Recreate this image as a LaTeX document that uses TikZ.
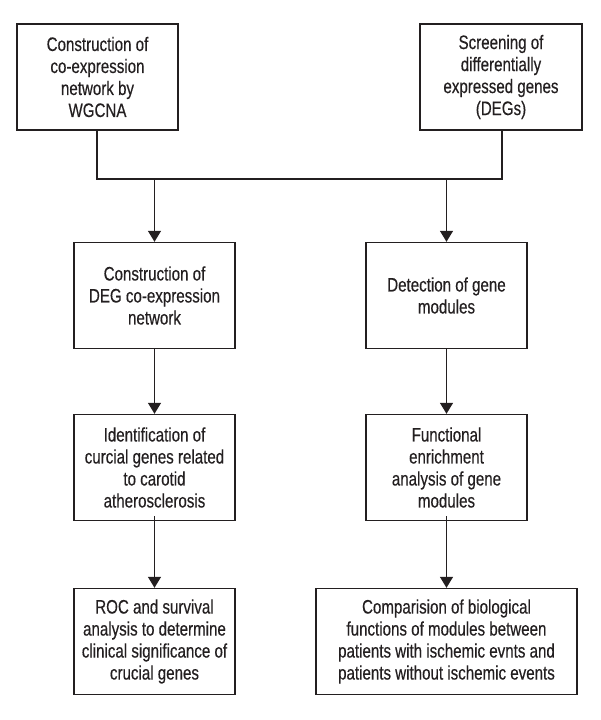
\documentclass[tikz,border=0pt]{standalone}
\usepackage{fontspec}
\setmainfont{Liberation Sans}[FakeStretch=0.775,FakeBold=0.4]
\usetikzlibrary{arrows.meta}
\definecolor{ink}{HTML}{231F20}
\tikzset{
  stepbox/.style={draw=ink, line width=1.4pt, align=center, inner sep=0pt,
    minimum height=106pt, text=ink,
    font=\fontsize{19.5}{22}\selectfont},
  conn/.style={draw=ink, line width=1.4pt},
  arr/.style={conn, -{Triangle[width=13pt,length=11pt]}}
}
\begin{document}
\begin{tikzpicture}[x=1pt,y=-1pt]
\useasboundingbox (0,0) rectangle (600,720);
\node[stepbox, minimum width=161pt] (wgcna) at (97.5,77) {Construction of\\co-expression\\network by\\WGCNA};
\node[stepbox, minimum width=162pt] (degs) at (501,77) {Screening of\\differentially\\expressed genes\\(DEGs)};
\node[stepbox, minimum width=161pt] (degnet) at (154.5,295.5) {Construction of\\DEG co-expression\\network};
\node[stepbox, minimum width=161pt] (modules) at (446.5,295.5) {Detection of gene\\modules};
\node[stepbox, minimum width=161pt] (crucial) at (154.5,467.5) {Identification of\\curcial genes related\\to carotid\\atherosclerosis};
\node[stepbox, minimum width=161pt] (enrich) at (446.5,467.5) {Functional\\enrichment\\analysis of gene\\modules};
\node[stepbox, minimum width=161pt] (roc) at (154.5,641.5) {ROC and survival\\analysis to determine\\clinical significance of\\crucial genes};
\node[stepbox, minimum width=261pt] (compare) at (446.5,641.5) {Comparision of biological\\functions of modules between\\patients with ischemic evnts and\\patients without ischemic events};
\coordinate (jl) at (97,179);
\coordinate (jr) at (502,179);
\coordinate (sl) at (154.5,179);
\coordinate (sr) at (446.5,179);
\draw[conn] (wgcna.south -| jl) -- (jl) -- (jr) -- (degs.south -| jr);
\draw[arr] (sl) -- (degnet.north);
\draw[arr] (sr) -- (modules.north);
\draw[arr] (degnet.south) -- (crucial.north);
\draw[arr] (modules.south) -- (enrich.north);
\draw[arr] ([yshift=5pt]crucial.south) -- (roc.north);
\draw[arr] ([yshift=5pt]enrich.south) -- (compare.north);
\end{tikzpicture}
\end{document}
